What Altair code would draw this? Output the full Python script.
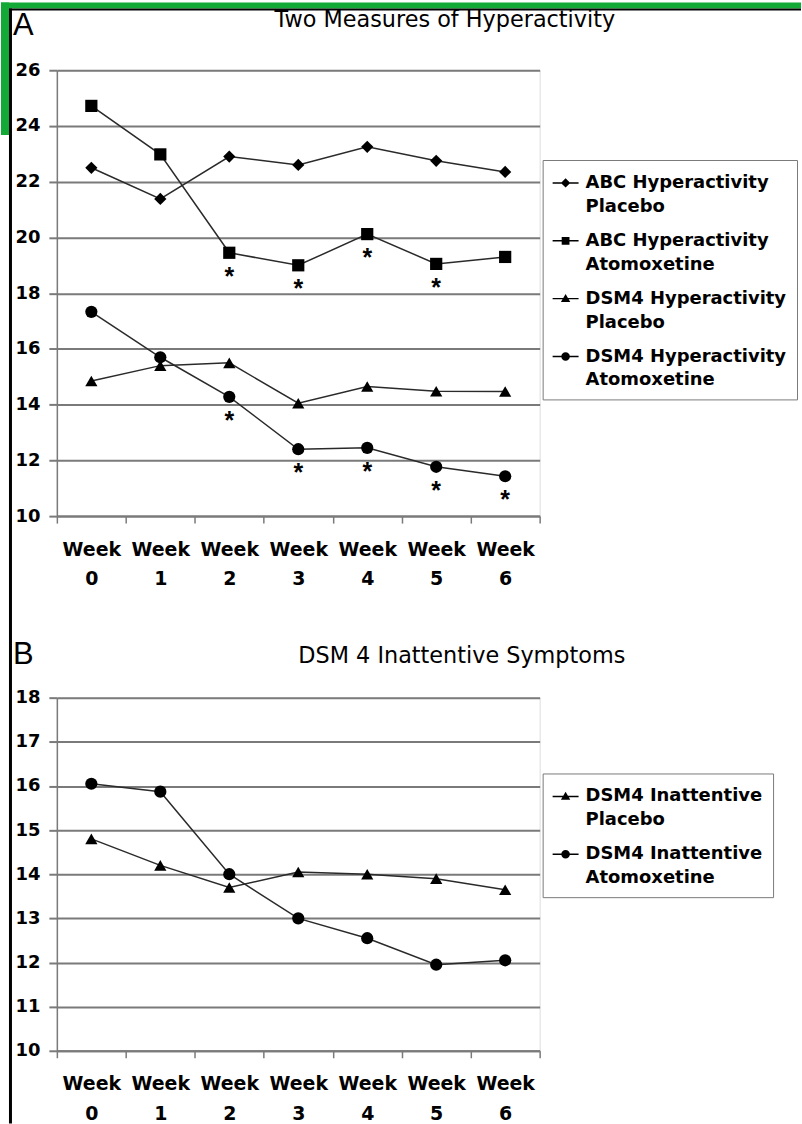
import altair as alt
import pandas as pd

weeks = [0, 1, 2, 3, 4, 5, 6]

# Panel A: two measures of hyperactivity
abc_placebo = [22.5, 21.38, 22.9, 22.6, 23.25, 22.75, 22.35]
abc_atomoxetine = [24.72, 22.98, 19.45, 19.0, 20.12, 19.05, 19.3]
dsm4_hyper_placebo = [14.85, 15.4, 15.5, 14.05, 14.65, 14.48, 14.47]
dsm4_hyper_atomoxetine = [17.33, 15.7, 14.28, 12.4, 12.45, 11.77, 11.43]
abc_sig_weeks = [2, 3, 4, 5]
dsm4_hyper_sig_weeks = [2, 3, 4, 5, 6]

# Panel B: DSM 4 inattentive symptoms
dsm4_inatt_placebo = [14.8, 14.2, 13.7, 14.05, 14.0, 13.9, 13.65]
dsm4_inatt_atomoxetine = [16.05, 15.87, 14.0, 13.0, 12.55, 11.95, 12.05]

series_a = ["ABC Hyperactivity Placebo", "ABC Hyperactivity Atomoxetine",
            "DSM4 Hyperactivity Placebo", "DSM4 Hyperactivity Atomoxetine"]
series_b = ["DSM4 Inattentive Placebo", "DSM4 Inattentive Atomoxetine"]

shapes_a = ["diamond", "square", "triangle-up", "circle"]
shapes_b = ["triangle-up", "circle"]

# legend symbols: a short thin bar through a small marker (all wound clockwise)
BAR = "M-1,-0.055H1V0.055H-1Z"
sym_diamond = BAR + "M0,-0.36L0.36,0L0,0.36L-0.36,0Z"
sym_square = BAR + "M-0.3,-0.3H0.3V0.3H-0.3Z"
sym_triangle = BAR + "M0,-0.36L0.36,0.26H-0.36Z"
sym_circle = BAR + "M-0.33,0A0.33,0.33 0 1,1 0.33,0A0.33,0.33 0 1,1 -0.33,0Z"
legend_a = [sym_diamond, sym_square, sym_triangle, sym_circle]
legend_b = [sym_triangle, sym_circle]


def long_table(names, columns, sig):
    rows = []
    for name, vals in zip(names, columns):
        for w, v in zip(weeks, vals):
            rows.append({"series": name, "week": w, "value": v,
                         "sig": w in sig.get(name, [])})
    return pd.DataFrame(rows)


df_a = long_table(series_a,
                  [abc_placebo, abc_atomoxetine, dsm4_hyper_placebo, dsm4_hyper_atomoxetine],
                  {series_a[1]: abc_sig_weeks, series_a[3]: dsm4_hyper_sig_weeks})
df_b = long_table(series_b, [dsm4_inatt_placebo, dsm4_inatt_atomoxetine], {})

GRAY = "#7a7a7a"
FONT = "DejaVu Sans"
W = 484


def x_enc():
    return alt.X("week:O", scale=alt.Scale(type="band", paddingInner=0, paddingOuter=0),
                 axis=alt.Axis(title=None, labelExpr="datum.label ? ['Week', datum.label] : ''",
                               labelAngle=0, tickBand="extent", tickSize=7, tickWidth=1.5,
                               tickColor=GRAY, domainColor=GRAY, domainWidth=2, grid=False,
                               labelFont=FONT, labelFontWeight="bold", labelFontSize=19,
                               labelColor="black", labelLineHeight=30, labelPadding=17))


def y_enc(lo, hi, step):
    vals = list(range(lo, hi + 1, step))
    return alt.Y("value:Q", scale=alt.Scale(domain=[lo, hi], nice=False, zero=False),
                 axis=alt.Axis(title=None, values=vals, grid=True, gridColor=GRAY, gridWidth=2,
                               domainColor=GRAY, domainWidth=1.5, tickColor=GRAY, tickSize=8,
                               tickWidth=2, labelFont=FONT, labelFontWeight="bold",
                               labelFontSize=18, labelColor="black", labelPadding=9))


def legend(lx, ly):
    return alt.Legend(orient="none", legendX=lx, legendY=ly, title=None,
                      labelFont=FONT, labelFontWeight="bold", labelFontSize=18,
                      labelColor="black", labelLimit=0, labelOffset=7,
                      labelExpr="[slice(datum.label, 0, lastindexof(datum.label, ' ')), "
                                "slice(datum.label, lastindexof(datum.label, ' ') + 1)]",
                      symbolSize=676, symbolFillColor="black", symbolStrokeWidth=0,
                      strokeColor=GRAY, fillColor="white", padding=10, rowPadding=12)


def panel(df, names, shapes, leg_syms, lo, hi, step, h, lx, ly, title, tx, ty, letter, lb):
    base = alt.Chart(df)
    lines = base.mark_line(color="#2a2a2a", strokeWidth=1.5).encode(
        x=x_enc(), y=y_enc(lo, hi, step), detail="series:N")
    points = base.mark_point(filled=True, color="black", opacity=1, size=150).encode(
        x="week:O", y="value:Q",
        shape=alt.Shape("series:N", scale=alt.Scale(domain=names, range=shapes), legend=None))
    stars = base.transform_filter("datum.sig").mark_text(
        text="*", font="Liberation Sans", fontWeight="bold", fontSize=25, color="black",
        baseline="middle", dy=24).encode(x="week:O", y="value:Q")
    key = base.transform_filter("false").transform_calculate(
        shape_key="datum.series").mark_point(
        filled=True, color="black", opacity=1).encode(
        x="week:O", y="value:Q",
        shape=alt.Shape("shape_key:N", scale=alt.Scale(domain=names, range=leg_syms),
                        legend=legend(lx, ly)))
    one = alt.Chart(pd.DataFrame({"k": [0]}))
    ttl = one.mark_text(text=title, font=FONT, fontSize=22.4, color="black",
                        align="center", baseline="middle").encode(
        x=alt.value(tx), y=alt.value(ty))
    let = one.mark_text(text=letter, font="Liberation Sans", fontSize=31, color="black",
                        align="left", baseline="alphabetic").encode(
        x=alt.value(-44), y=alt.value(lb))
    return [lines, points, stars, key, ttl, let], h


layers_a, h_a = panel(df_a, series_a, shapes_a, legend_a, 10, 26, 2, 447, 487, 90,
                      "Two Measures of Hyperactivity", 389, -50, "A", -35)
layers_b, h_b = panel(df_b, series_b, shapes_b, legend_b, 10, 18, 1, 354, 487, 76,
                      "DSM 4 Inattentive Symptoms", 406, -42, "B", -34)

# page frame: green band and black rule along the top and left edges
one = alt.Chart(pd.DataFrame({"k": [0]}))
GREEN = "#13a937"
frame = [
    one.mark_rect(color=GREEN).encode(x=alt.value(-56), x2=alt.value(746),
                                      y=alt.value(-68), y2=alt.value(-62)),
    one.mark_rect(color=GREEN).encode(x=alt.value(-56), x2=alt.value(-48),
                                      y=alt.value(-68), y2=alt.value(65)),
    one.mark_rect(color="black").encode(x=alt.value(-48), x2=alt.value(746),
                                        y=alt.value(-62), y2=alt.value(-60)),
    one.mark_rect(color="black").encode(x=alt.value(-48), x2=alt.value(-45),
                                        y=alt.value(-62), y2=alt.value(1056)),
]

chart_a = alt.layer(*layers_a, *frame).resolve_scale(shape="independent").properties(
    width=W, height=h_a)
chart_b = alt.layer(*layers_b).resolve_scale(shape="independent").properties(
    width=W, height=h_b)

chart = alt.vconcat(chart_a, chart_b, spacing=182, bounds="flush").properties(
    padding=0, background="white"
).configure_view(stroke=GRAY, strokeWidth=2).configure(
    style={"guide-label": {"lineHeight": 24}})

chart.save("out.html", embed_options={"renderer": "svg", "actions": False})
